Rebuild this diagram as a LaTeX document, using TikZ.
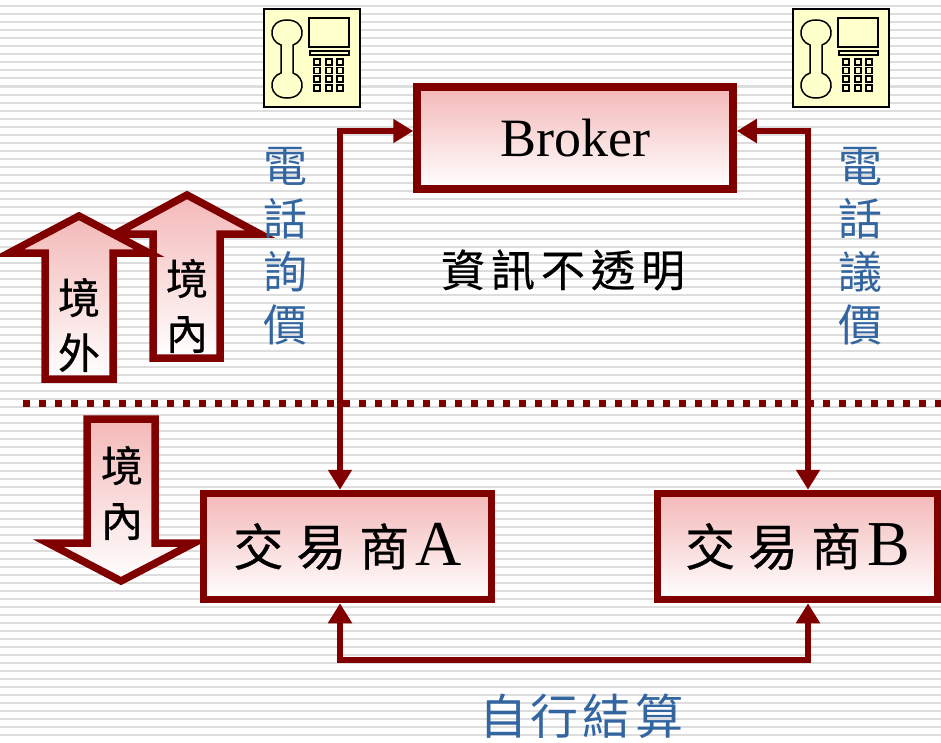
\documentclass[tikz,border=0pt]{standalone}
\usepackage{fontspec}
\setmainfont{Liberation Serif}
\newfontfamily\cjk{Noto Sans CJK TC}
\newfontfamily\cjkb{Noto Sans CJK TC}[FakeBold=0.6]
\usetikzlibrary{arrows.meta,calc}
\definecolor{dred}{HTML}{800000}
\definecolor{pk}{HTML}{F4B8B8}
\definecolor{stripecol}{HTML}{DDDDDD}
\definecolor{blu}{HTML}{3366A0}
\definecolor{phonebg}{HTML}{FFFFCC}
\tikzset{
  stripeline/.style={draw=stripecol, line width=2bp},
  box/.style={draw=dred, line width=7.5bp, top color=pk, bottom color=white, inner sep=0pt},
  blockarrow/.style={draw=dred, line width=7.5bp, top color=pk, bottom color=white, miter limit=10},
  conn/.style={draw=dred, line width=6bp, {Triangle[width=23bp,length=20bp]}-{Triangle[width=23bp,length=20bp]}},
  dotline/.style={draw=dred, line width=7bp, dash pattern=on 7bp off 9bp},
  vtext/.style={align=center, inner sep=0pt, font=\cjkb\fontsize{42bp}{55bp}\selectfont},
  bluetext/.style={align=center, inner sep=0pt, text=blu, font=\cjk\fontsize{44bp}{53bp}\selectfont},
  phone/.pic={
    \draw[line width=1.5bp, fill=phonebg] (0,0) rectangle (96,98);
    \draw[line width=1.5bp] (17,36) .. controls (4,32) and (4,11) .. (23,11)
       .. controls (42,11) and (42,32) .. (29,36) -- (29,64)
       .. controls (42,68) and (42,89) .. (23,89)
       .. controls (4,89) and (4,68) .. (17,64) -- cycle;
    \draw[line width=1.5bp] (45,9) rectangle (85,38);
    \draw[line width=1.2bp] (46,42) rectangle (85,46);
    \foreach \kx in {53,65,76} {
      \foreach \ky in {53,61.5,70,79} {
        \draw[line width=1.3bp] (\kx-3,\ky-3) rectangle (\kx+3,\ky+3);
      }
    }
  }
}
\begin{document}
\begin{tikzpicture}[x=1bp,y=-1bp]
\useasboundingbox (0,0) rectangle (941,743);
\fill[white] (0,0) rectangle (941,743);
\foreach \yy in {6.5,14.5,...,742} \draw[stripeline] (0,\yy) -- (941,\yy);

% phones
\pic at (264,9) {phone};
\pic at (793,9) {phone};

% dotted divider
\draw[dotline] (23,403) -- (941,403);

% block arrows
\draw[blockarrow] (153,358) -- (153,234) -- (115,234) -- (187,195) -- (260,234) -- (220,234) -- (220,358) -- cycle;
\draw[blockarrow] (45,379) -- (45,253) -- (9,253) -- (79,216) -- (149,253) -- (113,253) -- (113,379) -- cycle;
\draw[blockarrow] (87,419) -- (155,419) -- (155,543) -- (194,543) -- (121,581) -- (48,543) -- (87,543) -- cycle;

\node[vtext] (jingwai) at (79,325) {境\\外};
\node[vtext] (jingnei1) at (187,306) {境\\內};
\node[vtext] (jingnei2) at (122,493) {境\\內};

% boxes
\node[box, minimum width=316bp, minimum height=102bp, font=\fontsize{54bp}{60bp}\selectfont] (broker) at (575,138) {Broker};
\node[box, minimum width=288bp, minimum height=106bp] (A) at (347.5,546.5)
  {{\cjkb\fontsize{50bp}{56bp}\selectfont 交\hspace{13bp}易\hspace{13bp}商}\hspace{6bp}{\fontsize{64bp}{70bp}\selectfont A}};
\node[box, minimum width=280bp, minimum height=106bp] (B) at (797.5,546.5)
  {{\cjkb\fontsize{50bp}{56bp}\selectfont 交\hspace{13bp}易\hspace{13bp}商}\hspace{6bp}{\fontsize{64bp}{70bp}\selectfont B}};

% connectors
\coordinate (lx) at (340,0);
\coordinate (rx) at (808,0);
\coordinate (by) at (0,660);
\draw[conn] ([yshift=7bp]broker.west) -| (lx |- A.north);
\draw[conn] ([yshift=7bp]broker.east) -| (rx |- B.north);
\draw[conn] (lx |- A.south) |- (rx |- by) -- (rx |- B.south);

% texts
\node[inner sep=0pt, font=\cjkb\fontsize{44bp}{50bp}\selectfont] (opaque) at (563,270)
  {資\hspace{6bp}訊\hspace{6bp}不\hspace{6bp}透\hspace{6bp}明};
\node[bluetext] (askL) at (285,246) {電\\話\\詢\\價};
\node[bluetext] (askR) at (860,246) {電\\話\\議\\價};
\node[inner sep=0pt, text=blu, font=\cjk\fontsize{48bp}{54bp}\selectfont] (settle) at (581,716)
  {自\hspace{4bp}行\hspace{4bp}結\hspace{4bp}算};
\end{tikzpicture}
\end{document}
